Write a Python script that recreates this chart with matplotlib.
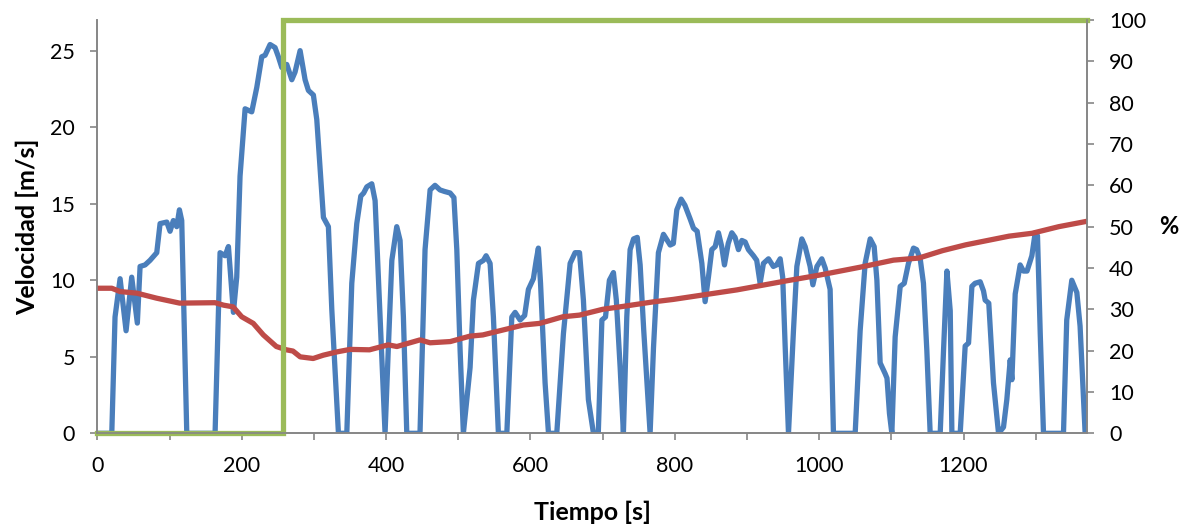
import matplotlib
matplotlib.use("Agg")
import matplotlib.pyplot as plt
from matplotlib.ticker import MultipleLocator, FuncFormatter

plt.rcParams['font.family'] = ['Lato', 'DejaVu Sans']

# velocity trace
t_vel = [0, 20, 24.5, 31.5, 39.8, 47.6, 55.4, 59.2, 66.1, 73, 82.3, 86.9, 96.2, 100.7, 105.3,
         110, 113.7, 116.9, 123.9, 163.1, 170, 177, 181.6, 188.5, 193.1, 197.7, 204.7, 213.9,
         220.9, 227.8, 232.4, 239.3, 246.2, 250.8, 255.5, 262.4, 269.4, 273.9, 280.9, 287.8,
         292.4, 299.3, 304, 313.2, 320.1, 324.8, 334, 345.6, 352.5, 359.4, 365, 369, 373.3,
         380.2, 384.8, 391.7, 398.6, 403, 408, 414.8, 419.4, 424, 428.7, 447, 454, 461, 467.8,
         474.7, 481, 488.7, 494, 498, 502.6, 507.1, 516.4, 521, 528, 534.9, 538.6, 544.1, 548.7,
         555.6, 567.3, 574.2, 578.8, 585.7, 592, 597.2, 604.1, 608, 611, 614, 620.3, 625, 636.5,
         645.7, 655, 661.9, 668, 673.4, 680.3, 687.3, 694, 699, 704, 709.4, 715, 719, 724.3,
         728.8, 733.5, 738.1, 742.9, 748, 752, 757, 765.8, 770.5, 777.3, 784.3, 793.6, 798,
         802.8, 808.8, 814, 821.3, 825.9, 831, 837.5, 842, 846.6, 851.3, 856, 860.5, 865, 868.8,
         874, 879, 883.5, 888.2, 892.9, 897.5, 902, 909, 913.5, 918.2, 922.8, 929.8, 936.5, 941,
         946, 949.5, 952.9, 957.5, 964.4, 969.1, 976, 980.6, 987.5, 991.3, 996.9, 1003.7, 1008.3,
         1015.2, 1019.8, 1049.9, 1056.8, 1063.7, 1070.7, 1076.2, 1080, 1084.5, 1091.4, 1094,
         1097.4, 1100.7, 1105.3, 1112.3, 1117.9, 1123.7, 1130.7, 1135, 1140, 1144.5, 1149.2,
         1153.8, 1167.7, 1172.3, 1177, 1181.6, 1183.9, 1195.4, 1202.3, 1207, 1211.6, 1216, 1223.1,
         1227.7, 1230, 1235, 1241.5, 1248.5, 1255.4, 1260, 1264.7, 1267, 1271.6, 1278.5, 1283,
         1288, 1294.7, 1299.3, 1302.5, 1306.3, 1310.8, 1338.5, 1343, 1350, 1357, 1361.5, 1368.5]
velocidad = [0, 0, 7.6, 10.1, 6.7, 10.2, 7.2, 10.9, 11.0, 11.3, 11.8, 13.7, 13.8, 13.2, 13.9,
             13.5, 14.6, 13.9, 0, 0, 11.8, 11.6, 12.2, 7.9, 10.2, 16.8, 21.2, 21.0,
             22.6, 24.6, 24.7, 25.4, 25.2, 24.6, 23.9, 24.1, 23.1, 23.6, 25.0, 23.1,
             22.4, 22.1, 20.5, 14.1, 13.5, 8.1, 0, 0, 9.8, 13.7, 15.5, 15.7, 16.1,
             16.3, 15.2, 7.6, 0, 5.4, 11.3, 13.5, 12.6, 7.6, 0, 0, 12.0, 15.9, 16.2,
             15.9, 15.8, 15.7, 15.4, 12.0, 5.4, 0, 4.3, 8.7, 11.1, 11.3, 11.6, 11.1, 7.6,
             0, 0, 7.6, 7.9, 7.4, 7.7, 9.4, 10.1, 11.3, 12.1, 9.8, 3.3, 0, 0,
             6.5, 11.1, 11.8, 11.8, 8.7, 2.2, 0, 0, 7.4, 7.6, 10.0, 10.5, 8.7, 4.3,
             0, 7.6, 12.0, 12.7, 12.8, 11.0, 6.7, 0, 5.6, 11.8, 13.0, 12.3, 12.4,
             14.6, 15.3, 14.9, 14.0, 13.4, 13.2, 11.1, 8.6, 10.2, 12.0, 12.2, 13.1, 12.2, 11.0,
             12.4, 13.1, 12.8, 12.0, 12.6, 12.5, 12.0, 11.6, 11.3, 9.8, 11.1, 11.4, 10.9, 11.0,
             11.4, 10.2, 5.7, 0, 6.7, 10.9, 12.7, 12.2, 10.9, 9.7, 10.9, 11.4, 10.8,
             9.4, 0, 0, 6.7, 11.1, 12.7, 12.2, 10.0, 4.6, 3.9, 3.6,
             1.3, 0, 6.3, 9.6, 9.8, 11.1, 12.1, 12.0, 11.4, 9.8, 5.4,
             0, 0, 5.4, 10.6, 8.0, 0, 0, 5.7, 5.9, 9.6, 9.8, 9.9,
             9.3, 8.7, 8.5, 3.3, 0, 0.4, 2.2, 4.8, 3.5, 9.1, 11.0, 10.6,
             10.6, 11.6, 13.1, 12.9, 6.5, 0, 0, 7.4, 10.0, 9.2, 7.0, 0]

# percentage series (right axis)
t_rojo = [0, 20, 31.5, 55, 82, 114, 163, 175, 188, 200, 216, 230, 248, 262, 271, 281, 299,
          313, 332, 350, 377, 403, 415, 447, 461, 489, 516, 534, 562, 590, 613, 645, 668,
          700, 728, 770, 798, 840, 886, 955, 1001, 1057, 1103, 1138, 1171, 1203, 1263,
          1295, 1332, 1368]
pct_rojo = [35.1, 35.1, 34.3, 33.9, 32.7, 31.5, 31.6, 31.0, 30.6, 28.2, 26.6, 23.8, 21.0,
            20.2, 19.9, 18.5, 18.1, 18.9, 19.7, 20.3, 20.2, 21.4, 21.0, 22.6, 21.9, 22.2,
            23.5, 23.8, 25.0, 26.2, 26.6, 28.2, 28.6, 30.0, 30.7, 31.8, 32.4, 33.5, 34.7,
            36.9, 38.3, 40.2, 41.9, 42.4, 44.2, 45.6, 47.7, 48.4, 50.0, 51.2]

t_verde = [0, 257, 257, 1371]
pct_verde = [0, 0, 100, 100]

azul = '#4A7EBB'
rojo = '#BE4B48'
verde = '#9BBB59'
gris = '#868686'

fig = plt.figure(figsize=(11.93, 5.27), dpi=100)
ax = fig.add_axes([0.0816, 0.1778, 0.9111 - 0.0816, 0.962 - 0.1778])
ax2 = ax.twinx()

ax.plot(t_vel, velocidad, color=azul, lw=3.8, solid_joinstyle='round', solid_capstyle='round')
ax2.plot(t_rojo, pct_rojo, color=rojo, lw=3.8, solid_joinstyle='round')
ax2.plot(t_verde, pct_verde, color=verde, lw=3.8, clip_on=False, solid_joinstyle='miter')

ax.set_xlim(0, 1371)
ax.set_ylim(0, 27)
ax2.set_ylim(0, 100)

ax.xaxis.set_major_locator(MultipleLocator(100))
ax.xaxis.set_major_formatter(FuncFormatter(lambda v, p: f"{int(v)}" if int(round(v)) % 200 == 0 else ""))
ax.yaxis.set_major_locator(MultipleLocator(5))
ax2.yaxis.set_major_locator(MultipleLocator(10))

for a in (ax, ax2):
    a.spines['top'].set_visible(False)
    for s in ('left', 'right', 'bottom'):
        a.spines[s].set_color(gris)
        a.spines[s].set_linewidth(1.2)
    a.tick_params(colors=gris, labelcolor='black', labelsize=15.5, length=5, width=1.2, pad=11)

ax.set_xlabel('Tiempo [s]', fontsize=18, fontweight='bold', labelpad=18)
ax.set_ylabel('Velocidad [m/s]', fontsize=18, fontweight='bold', labelpad=8)
ax2.set_ylabel('%', fontsize=17, fontweight='bold', rotation=0, labelpad=16, va='center')

fig.savefig('out.png', dpi=100)
